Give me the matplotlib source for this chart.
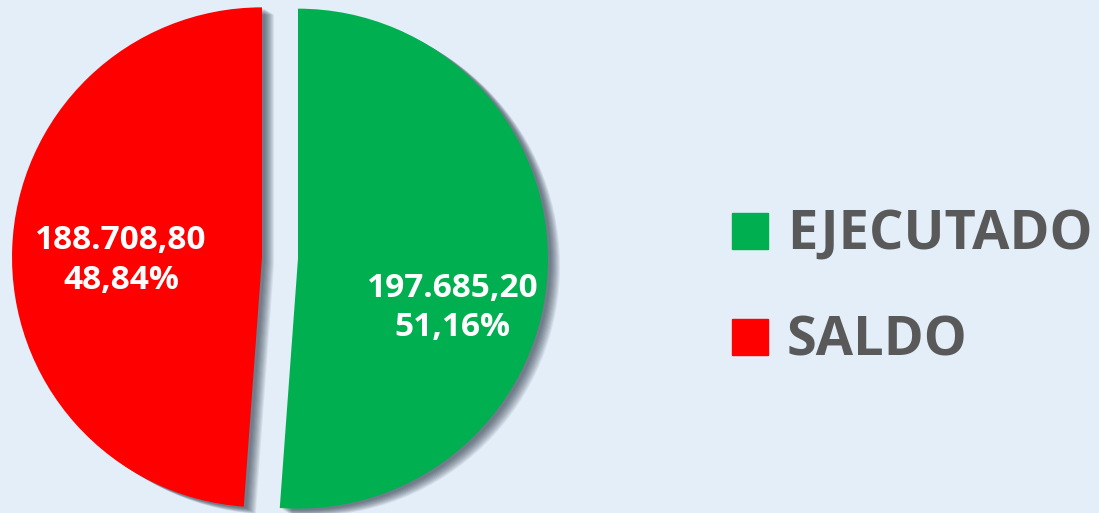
import matplotlib.pyplot as plt

# datos del grafico
categorias = ["EJECUTADO", "SALDO"]
valores = [197685.20, 188708.80]
colores = ["#00B050", "#FF0000"]

BG = "#E3EEF8"
W, H = 1099, 513
CX, CY, R = 280, 255, 250   # centro y radio del pie en pixeles


def fmt_es(v, dec=2):
    s = f"{v:,.{dec}f}"
    return s.replace(",", "X").replace(".", ",").replace("X", ".")


fig = plt.figure(figsize=(W / 100, H / 100), dpi=100, facecolor=BG)
ax = fig.add_axes([0, 0, 1, 1])
ax.set_facecolor(BG)
ax.axis("off")

explode = [0.072, 0.072]

# sombra difusa: varias capas grises desplazadas
n_layers = 10
for i in range(n_layers):
    off = 0.012 + 0.004 * i
    sh, _ = ax.pie(valores, explode=explode, startangle=90, counterclock=False,
                   radius=1.0, center=(off, -off * 0.6),
                   colors=["#1F2A3A"] * len(valores),
                   wedgeprops=dict(linewidth=0))
    for w in sh:
        w.set_alpha(0.08)
        w.set_zorder(1)

wedges, _ = ax.pie(valores, explode=explode, startangle=90, counterclock=False,
                   radius=1.0, colors=colores,
                   wedgeprops=dict(linewidth=0))
for w in wedges:
    w.set_zorder(3)

ax.set_xlim(-CX / R, (W - CX) / R)
ax.set_ylim(-CY / R, (H - CY) / R)
ax.set_aspect("equal")

total = sum(valores)
pos_labels = [(0.69, -0.2), (-0.636, -0.01)]
for v, (x, y) in zip(valores, pos_labels):
    pct = v / total * 100
    txt = f"{fmt_es(v)}\n{fmt_es(pct)}%"
    ax.text(x, y, txt, ha="center", va="center", color="white", fontsize=24,
            fontweight="bold", family=["Open Sans", "DejaVu Sans"],
            linespacing=1.25, zorder=5)

# leyenda
leg_y = [249, 355]
for cat, col, yb in zip(categorias, colores, leg_y):
    fig.patches.append(plt.Rectangle((732 / W, (H - yb) / H), 36 / W, 36 / H,
                                     transform=fig.transFigure, color=col))
    fig.text(787 / W, (H - yb) / H, cat, ha="left", va="baseline", color="#595959",
             fontsize=39, fontweight="bold", family=["Open Sans", "DejaVu Sans"])

fig.savefig("out.png", dpi=100, facecolor=BG)
